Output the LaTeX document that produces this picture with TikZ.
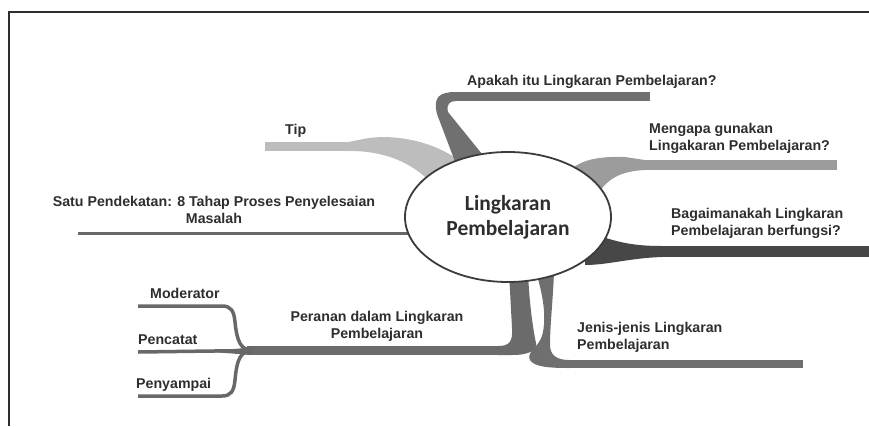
\documentclass[tikz,border=0pt]{standalone}
\usepackage{fontspec}
\setmainfont{Liberation Sans}
\newfontfamily\hubfont{Carlito}
\usetikzlibrary{shapes.geometric, backgrounds}
\definecolor{txt}{HTML}{2E2E2E}
\definecolor{rim}{HTML}{3C3C3C}
\definecolor{apkc}{HTML}{707070}
\definecolor{tipc}{HTML}{BDBDBD}
\definecolor{mengc}{HTML}{9C9C9C}
\definecolor{bagc}{HTML}{474747}
\definecolor{perc}{HTML}{6B6B6B}
\definecolor{jenc}{HTML}{6F6F6F}
\definecolor{twigc}{HTML}{686868}

\begin{document}
\begin{tikzpicture}[x=1pt, y=-1pt]
% Styles
\tikzstyle{hub} = [draw=rim, line width=1.8pt, fill=white, ellipse, minimum width=206pt, minimum height=130pt, inner sep=0pt, align=center, text=txt, font=\hubfont\bfseries\fontsize{21.5}{25}\selectfont]
\tikzstyle{topic} = [inner sep=0pt, text=txt, font=\bfseries\fontsize{14.2}{17}\selectfont]
\tikzstyle{twig} = [draw=twigc, line width=3.5pt]
\tikzstyle{limb} = [line width=9pt]

\useasboundingbox (0,0) rectangle (869,426);
\draw[line width=1.4pt, draw=txt] (9,426) |- (869,12);

% Nodes
\node (hub) [hub] at (508,217) {Lingkaran\\Pembelajaran};
\node (apk) [topic, anchor=base west] at (467,85) {Apakah itu Lingkaran Pembelajaran?};
\node (tip) [topic, anchor=base west] at (285,134) {Tip};
\node (meng) [topic, anchor=base west, align=left] at (649,150) {Mengapa gunakan\\Lingakaran Pembelajaran?};
\node (bag) [topic, anchor=base west, align=left] at (671,235) {Bagaimanakah Lingkaran\\Pembelajaran berfungsi?};
\node (satu) [topic, anchor=base, align=center] at (214,223) {Satu Pendekatan: 8 Tahap Proses Penyelesaian\\Masalah};
\node (per) [topic, anchor=base, align=center] at (377,338) {Peranan dalam Lingkaran\\Pembelajaran};
\node (jen) [topic, anchor=base west, align=left] at (577,349) {Jenis-jenis Lingkaran\\Pembelajaran};
\node (mod) [topic, anchor=base west] at (150,298) {Moderator};
\node (pct) [topic, anchor=base west] at (138,344) {Pencatat};
\node (pny) [topic, anchor=base west] at (136,388) {Penyampai};

% Branch ends
\coordinate (apk-knee) at (455,96.5);
\coordinate (apk-end) at (650,96.5);
\coordinate (tip-knee) at (350,146.5);
\coordinate (tip-end) at (265,146.5);
\coordinate (meng-knee) at (643,165);
\coordinate (meng-end) at (837,165);
\coordinate (bag-knee) at (660,251.5);
\coordinate (bag-end) at (869,251.5);
\coordinate (satu-end) at (78,233.5);
\coordinate (per-knee) at (505,350.5);
\coordinate (per-end) at (247,350.5);
\coordinate (jen-knee) at (567,364);
\coordinate (jen-end) at (803,364);
\coordinate (mod-end) at (138,306);
\coordinate (pct-end) at (138,352);
\coordinate (pny-end) at (138,396);

% Connections
\begin{scope}[on background layer]
\draw[tipc, limb] (tip-end) -- (tip-knee);
\fill[tipc] (348,142) .. controls (360,140) and (368,137) .. (385,137) .. controls (420,138) and (455,150) .. (480,180) -- (445,200) .. controls (425,170) and (395,151) .. (350,151) -- cycle;
\draw[apkc, limb] (apk-knee) -- (apk-end);
\fill[apkc] (462,180) -- (437,114) .. controls (433,97) and (439,92) .. (456,92) -- (456,101) .. controls (450,101) and (446,104) .. (448,112) -- (503,180) -- cycle;
\draw[mengc, line width=10pt] (meng-knee) -- (meng-end);
\fill[mengc] (560,188) .. controls (568,162) and (590,156) .. (625,157) -- (645,160) -- (645,170) .. controls (622,171) and (605,178) .. (595,200) -- cycle;
\draw[bagc, line width=11pt] (bag-knee) -- (bag-end);
\fill[bagc] (585,230) -- (606,238) .. controls (625,244) and (640,246) .. (662,246) -- (662,257) .. controls (630,258) and (608,265) .. (585,265) -- cycle;
\draw[twig, line width=3pt] (satu-end) -- (hub.center |- satu-end);
\draw[perc, limb] (per-end) -- (per-knee);
\fill[perc] (509,272) -- (512,328) .. controls (513,342) and (509,346) .. (498,346) -- (498,355) -- (512,355) .. controls (530,355) and (537,350) .. (536,343) .. controls (533,330) and (529,300) .. (528,272) -- cycle;
\draw[jenc, line width=8pt] (jen-knee) -- (jen-end);
\fill[jenc] (536,272) .. controls (543,295) and (547,318) .. (542,336) .. controls (538,348) and (526,352) .. (530,360) .. controls (534,367) and (550,368) .. (569,368) -- (569,360) .. controls (558,360) and (550,356) .. (550,345) .. controls (550,325) and (553,300) .. (554,272) -- cycle;
\draw[twig] (mod-end) -- (222,306) .. controls (231,306) and (234,311) .. (235,322) .. controls (237,342) and (241,350) .. (252,350);
\draw[twig] (pct-end) -- (252,350.5);
\fill[twigc] (212,352) -- (252,347) -- (252,355) -- cycle;
\draw[twig] (pny-end) -- (222,396) .. controls (231,396) and (234,391) .. (235,380) .. controls (237,358) and (241,351) .. (252,351);
\end{scope}
\end{tikzpicture}
\end{document}
